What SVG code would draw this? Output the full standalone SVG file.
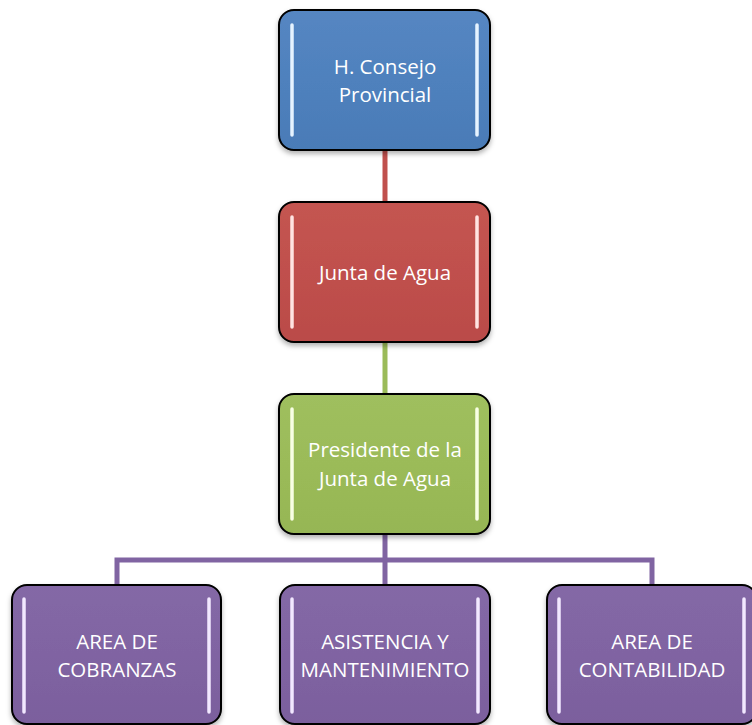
<svg xmlns="http://www.w3.org/2000/svg" width="752" height="725" viewBox="0 0 752 725">
<defs>
<style>
.box{stroke:#000;stroke-width:2}
.hl{fill:none;stroke-width:3.5;stroke-linecap:round}
.txt{font-family:"Open Sans","Liberation Sans",sans-serif;font-size:20.5px;fill:#fff;text-anchor:middle}
.conn{fill:none;stroke-width:5}
</style>
<linearGradient id="gBlue" x1="0" y1="0" x2="0" y2="1"><stop offset="0" stop-color="#5586c2"/><stop offset="0.5" stop-color="#4f81bd"/><stop offset="1" stop-color="#4a7bb7"/></linearGradient>
<linearGradient id="gRed" x1="0" y1="0" x2="0" y2="1"><stop offset="0" stop-color="#c45551"/><stop offset="0.5" stop-color="#c0504d"/><stop offset="1" stop-color="#ba4b48"/></linearGradient>
<linearGradient id="gGreen" x1="0" y1="0" x2="0" y2="1"><stop offset="0" stop-color="#9fbf5e"/><stop offset="0.5" stop-color="#9bbb59"/><stop offset="1" stop-color="#96b654"/></linearGradient>
<linearGradient id="gPurple" x1="0" y1="0" x2="0" y2="1"><stop offset="0" stop-color="#8468a6"/><stop offset="0.5" stop-color="#8064a2"/><stop offset="1" stop-color="#7b5f9d"/></linearGradient>
<filter id="sh" x="-10%" y="-10%" width="120%" height="130%"><feDropShadow dx="0" dy="3" stdDeviation="2.5" flood-color="#000" flood-opacity="0.3"/></filter>
<filter id="glow" x="-200%" y="-10%" width="500%" height="120%"><feGaussianBlur stdDeviation="0.6"/></filter>
</defs>

<g id="connectors">
<line class="conn" x1="385" y1="150" x2="385" y2="203" stroke="#c0504d"/>
<line class="conn" x1="385" y1="342" x2="385" y2="395" stroke="#9bbb59"/>
<path class="conn" d="M385 534 V586 M117 586 V560 H652 V586" stroke="#8064a2"/>
</g>

<g id="n1">
<rect class="box" x="279" y="10" width="211" height="140" rx="15" fill="url(#gBlue)" filter="url(#sh)"/>
<g filter="url(#glow)"><line class="hl" x1="292" y1="25" x2="292" y2="135" stroke="#e6f3ff"/><line class="hl" x1="477" y1="25" x2="477" y2="135" stroke="#e6f3ff"/></g>
<text class="txt" x="385" y="74">H. Consejo</text>
<text class="txt" x="385" y="102">Provincial</text>
</g>

<g id="n2">
<rect class="box" x="279" y="202" width="211" height="140" rx="15" fill="url(#gRed)" filter="url(#sh)"/>
<g filter="url(#glow)"><line class="hl" x1="292" y1="217" x2="292" y2="327" stroke="#ffe4e2"/><line class="hl" x1="477" y1="217" x2="477" y2="327" stroke="#ffe4e2"/></g>
<text class="txt" x="385" y="280">Junta de Agua</text>
</g>

<g id="n3">
<rect class="box" x="279" y="394" width="211" height="140" rx="15" fill="url(#gGreen)" filter="url(#sh)"/>
<g filter="url(#glow)"><line class="hl" x1="292" y1="409" x2="292" y2="519" stroke="#f8ffe4"/><line class="hl" x1="477" y1="409" x2="477" y2="519" stroke="#f8ffe4"/></g>
<text class="txt" x="385" y="457">Presidente de la</text>
<text class="txt" x="385" y="486">Junta de Agua</text>
</g>

<g id="n4">
<rect class="box" x="12" y="585" width="209" height="139" rx="15" fill="url(#gPurple)" filter="url(#sh)"/>
<g filter="url(#glow)"><line class="hl" x1="24" y1="599" x2="24" y2="712" stroke="#f2e8ff"/><line class="hl" x1="209" y1="599" x2="209" y2="712" stroke="#f2e8ff"/></g>
<text class="txt" x="117" y="649">AREA DE</text>
<text class="txt" x="117" y="677">COBRANZAS</text>
</g>

<g id="n5">
<rect class="box" x="280" y="585" width="210" height="139" rx="15" fill="url(#gPurple)" filter="url(#sh)"/>
<g filter="url(#glow)"><line class="hl" x1="292" y1="599" x2="292" y2="712" stroke="#f2e8ff"/><line class="hl" x1="478" y1="599" x2="478" y2="712" stroke="#f2e8ff"/></g>
<text class="txt" x="385" y="649">ASISTENCIA Y</text>
<text class="txt" x="385" y="677">MANTENIMIENTO</text>
</g>

<g id="n6">
<rect class="box" x="547" y="585" width="210" height="139" rx="15" fill="url(#gPurple)" filter="url(#sh)"/>
<g filter="url(#glow)"><line class="hl" x1="559" y1="599" x2="559" y2="712" stroke="#f2e8ff"/><line class="hl" x1="744" y1="599" x2="744" y2="712" stroke="#f2e8ff"/></g>
<text class="txt" x="652" y="649">AREA DE</text>
<text class="txt" x="652" y="677">CONTABILIDAD</text>
</g>
</svg>
